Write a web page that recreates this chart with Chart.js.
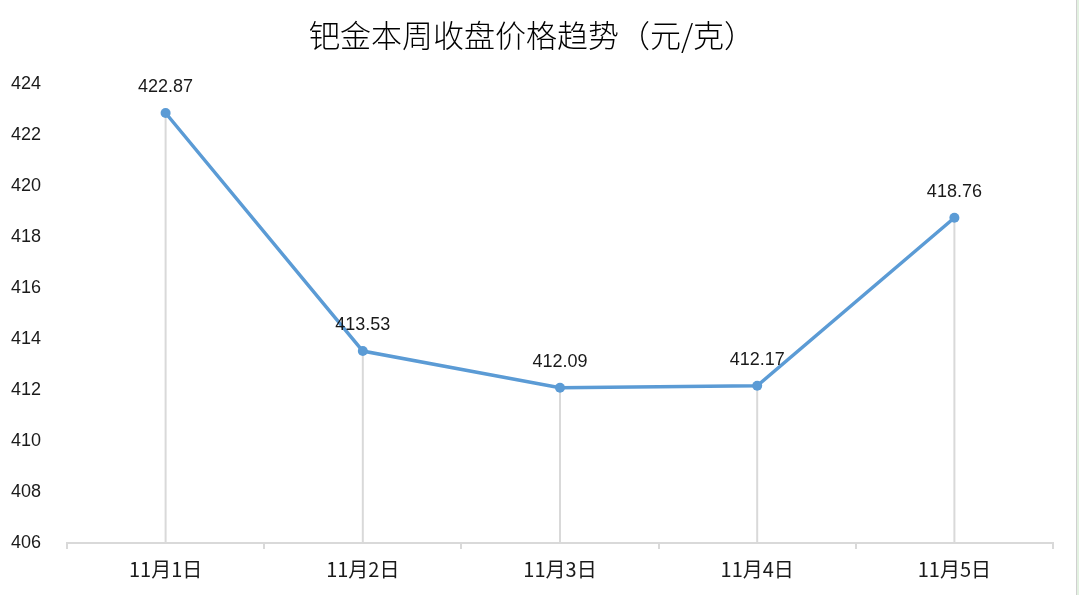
<!DOCTYPE html>
<html>
<head>
<meta charset="utf-8">
<script src="https://cdn.jsdelivr.net/npm/chart.js@4/dist/chart.umd.min.js"></script>
<style>
  html, body { margin: 0; padding: 0; background: #e3f1e1; }
  #wrap { width: 1076px; height: 595px; background: #fff; border-right: 1px solid #d0d0d0; }
  canvas { display: block; }
</style>
</head>
<body>
<div id="wrap"><canvas id="c" width="1076" height="595"></canvas></div>
<script>
// Closing prices for the week
const categories = ['11月1日', '11月2日', '11月3日', '11月4日', '11月5日'];
const prices = [422.87, 413.53, 412.09, 412.17, 418.76];
const yMin = 406;
const yMax = 424;
const yStep = 2;

const LINE_COLOR = '#5b9bd5';
const AXIS_GREY = '#d9d9d9';
const LATIN = '"Liberation Sans", Arial, sans-serif';
const CJK = '"Noto Sans CJK SC", "Noto Sans", sans-serif';

// Thin vertical drop lines from each point down to the category axis
const dropLines = {
  id: 'dropLines',
  beforeDatasetsDraw(chart) {
    const { ctx, scales: { y } } = chart;
    const meta = chart.getDatasetMeta(0);
    const base = y.getPixelForValue(yMin);
    ctx.save();
    ctx.strokeStyle = AXIS_GREY;
    ctx.lineWidth = 2;
    meta.data.forEach(pt => {
      ctx.beginPath();
      ctx.moveTo(pt.x, pt.y);
      ctx.lineTo(pt.x, base);
      ctx.stroke();
    });
    ctx.restore();
  }
};

// Value labels above each point
const valueLabels = {
  id: 'valueLabels',
  afterDatasetsDraw(chart) {
    const { ctx } = chart;
    const meta = chart.getDatasetMeta(0);
    const values = chart.data.datasets[0].data;
    ctx.save();
    ctx.font = '18px ' + LATIN;
    ctx.fillStyle = '#1a1a1a';
    ctx.textAlign = 'center';
    ctx.textBaseline = 'middle';
    meta.data.forEach((pt, i) => {
      ctx.fillText(values[i].toFixed(2), pt.x, pt.y - 26);
    });
    ctx.restore();
  }
};

new Chart(document.getElementById('c'), {
  type: 'line',
  data: {
    labels: categories,
    datasets: [{
      data: prices,
      borderColor: LINE_COLOR,
      backgroundColor: LINE_COLOR,
      borderWidth: 3.5,
      pointRadius: 5,
      pointBorderWidth: 0,
      pointBackgroundColor: LINE_COLOR,
      tension: 0,
      fill: false
    }]
  },
  options: {
    responsive: false,
    animation: false,
    layout: { padding: { left: 11, right: 23, top: 0, bottom: 0 } },
    plugins: {
      legend: { display: false },
      tooltip: { enabled: false },
      title: {
        display: true,
        text: '钯金本周收盘价格趋势（元/克）',
        color: '#000',
        font: { family: CJK, size: 31, weight: 300, lineHeight: 1.2 },
        padding: { top: 17, bottom: 30 }
      }
    },
    scales: {
      x: {
        offset: true,
        grid: {
          display: true,
          offset: true,
          drawOnChartArea: false,
          drawTicks: true,
          tickLength: 6,
          color: AXIS_GREY,
          lineWidth: 2
        },
        border: { display: true, color: AXIS_GREY, width: 2 },
        ticks: {
          color: '#1a1a1a',
          font: { family: CJK, size: 20 },
          padding: 8,
          maxRotation: 0
        },
        afterFit(scale) { scale.height = 52; }
      },
      y: {
        min: yMin,
        max: yMax,
        grid: { display: false, drawTicks: false },
        border: { display: false },
        ticks: {
          stepSize: yStep,
          color: '#1a1a1a',
          font: { family: LATIN, size: 18 },
          crossAlign: 'far',
          padding: 0
        },
        afterFit(scale) { scale.width = 56; }
      }
    }
  },
  plugins: [dropLines, valueLabels]
});
</script>
</body>
</html>
